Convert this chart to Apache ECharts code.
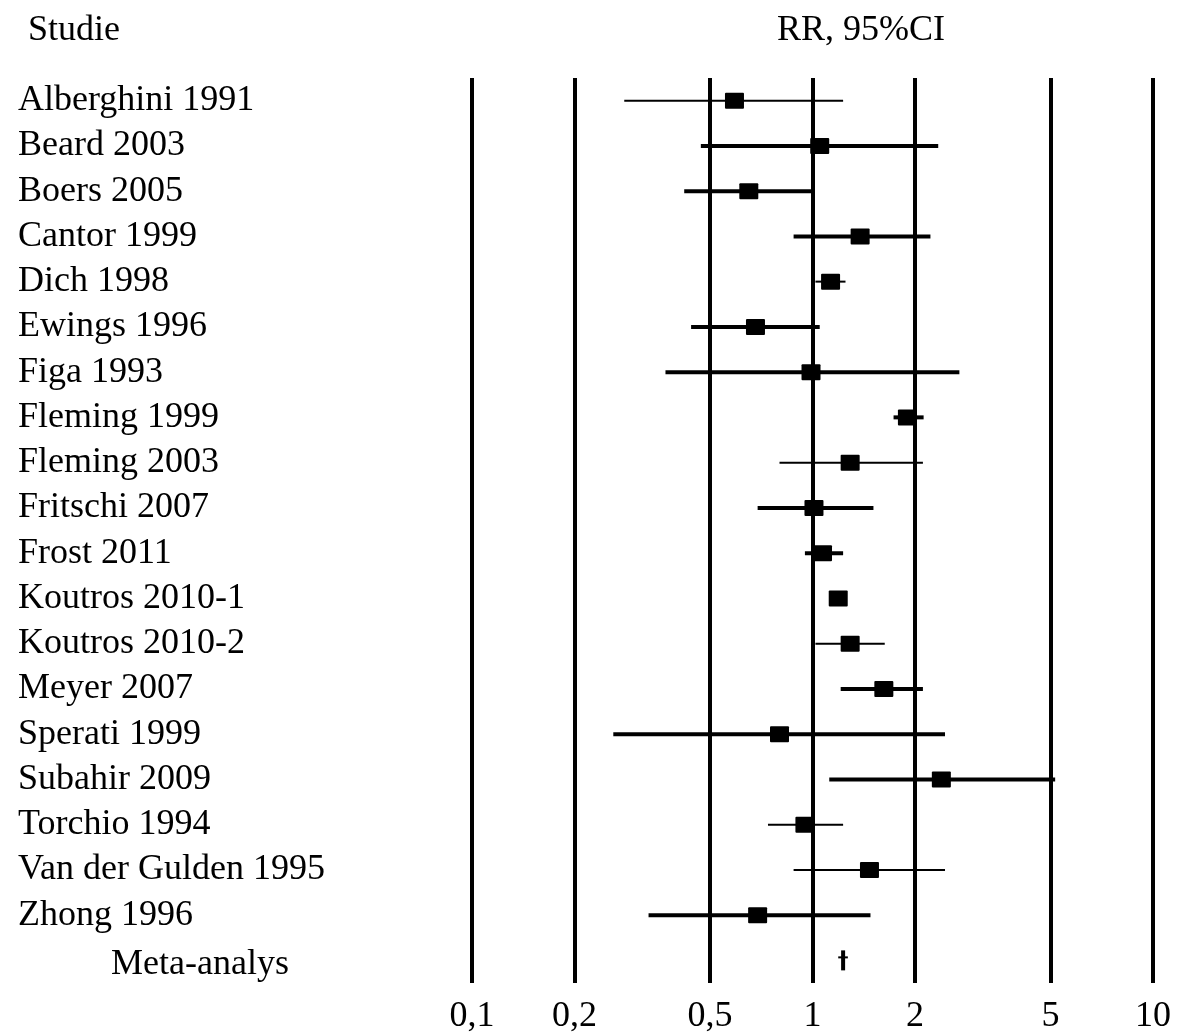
<!DOCTYPE html>
<html>
<head>
<meta charset="utf-8">
<script src="https://cdn.jsdelivr.net/npm/echarts@6/dist/echarts.min.js"></script>
<style>
  html, body { margin: 0; padding: 0; background: #ffffff; }
  #chart { width: 1178px; height: 1032px; }
</style>
</head>
<body>
<div id="chart"></div>
<script>
// ---- data ----
const studies = [
  'Alberghini 1991', 'Beard 2003', 'Boers 2005', 'Cantor 1999', 'Dich 1998',
  'Ewings 1996', 'Figa 1993', 'Fleming 1999', 'Fleming 2003', 'Fritschi 2007',
  'Frost 2011', 'Koutros 2010-1', 'Koutros 2010-2', 'Meyer 2007', 'Sperati 1999',
  'Subahir 2009', 'Torchio 1994', 'Van der Gulden 1995', 'Zhong 1996'
];
const rrEst  = [0.59, 1.05, 0.65, 1.38, 1.13, 0.68, 0.99, 1.90, 1.29, 1.01, 1.07, 1.19, 1.29, 1.62, 0.80, 2.39, 0.95, 1.47, 0.69];
const ciLow  = [0.28, 0.47, 0.42, 0.88, 1.02, 0.44, 0.37, 1.73, 0.80, 0.69, 0.95, 1.13, 1.02, 1.21, 0.26, 1.12, 0.74, 0.88, 0.33];
const ciHigh = [1.23, 2.34, 1.00, 2.22, 1.25, 1.05, 2.70, 2.12, 2.11, 1.51, 1.23, 1.25, 1.63, 2.11, 2.45, 5.16, 1.23, 2.45, 1.48];
const metaLabel = 'Meta-analys';
const metaEst = 1.23;
const metaLow = 1.19;
const metaHigh = 1.27;
const gridTicks = [0.1, 0.2, 0.5, 1, 2, 5, 10];
const tickLabels = ['0,1', '0,2', '0,5', '1', '2', '5', '10'];
const headerStudy = 'Studie';
const headerRR = 'RR, 95%CI';

// ---- styles ----
const thinCIStudies = ['Alberghini 1991', 'Dich 1998', 'Fleming 2003', 'Koutros 2010-2', 'Torchio 1994', 'Van der Gulden 1995'];
const FONT = '"Liberation Serif", "Times New Roman", serif';
const FS = 36;

const categories = studies.concat([metaLabel]);
const seriesData = studies.map((s, i) => [ciLow[i], rrEst[i], ciHigh[i], i]);
seriesData.push([metaLow, metaEst, metaHigh, studies.length]);

const chart = echarts.init(document.getElementById('chart'), null, { renderer: 'canvas' });

chart.setOption({
  animation: false,
  backgroundColor: '#ffffff',
  grid: { left: 472, right: 25, top: 78, bottom: 49, containLabel: false },
  xAxis: {
    type: 'log', logBase: 10, min: 0.1, max: 10,
    axisLine: { show: false }, axisTick: { show: false },
    splitLine: { show: false }, axisLabel: { show: false }
  },
  yAxis: {
    type: 'category', inverse: true, data: categories,
    axisLine: { show: false }, axisTick: { show: false }, splitLine: { show: false },
    axisLabel: {
      interval: 0,
      align: 'left', margin: 454, color: '#000', fontFamily: FONT, fontSize: FS,
      formatter: (v, idx) => idx === studies.length ? '{m|' + v + '}' : v,
      rich: { m: { width: 364, align: 'center', padding: [9, 0, 0, 0], color: '#000', fontFamily: FONT, fontSize: FS } }
    }
  },
  graphic: [
    { type: 'text', x: 28, y: 13, style: { text: headerStudy, font: FS + 'px ' + FONT, fill: '#000' } },
    { type: 'text', x: 861, y: 13, style: { text: headerRR, font: FS + 'px ' + FONT, fill: '#000', align: 'center' } }
  ],
  series: [
    {
      type: 'scatter', data: [], silent: true,
      markLine: {
        silent: true, symbol: 'none', animation: false,
        lineStyle: { color: '#000', width: 4, type: 'solid' },
        label: { show: true, position: 'end', distance: 16, color: '#000', fontFamily: FONT, fontSize: FS },
        data: gridTicks.map((t, i) => ({ xAxis: t, label: { formatter: tickLabels[i] } }))
      }
    },
    {
      type: 'custom', silent: true, z: 5,
      encode: { x: [0, 1, 2], y: 3 },
      data: seriesData,
      renderItem: (params, api) => {
        const row = api.value(3);
        const lo = api.coord([api.value(0), row]);
        const est = api.coord([api.value(1), row]);
        const hi = api.coord([api.value(2), row]);
        if (row === studies.length) {
          return {
            type: 'group', children: [
              { type: 'line', shape: { x1: lo[0], y1: est[1] - 3, x2: hi[0], y2: est[1] - 3 }, style: { stroke: '#000', lineWidth: 2 } },
              { type: 'line', shape: { x1: est[0], y1: est[1] - 10, x2: est[0], y2: est[1] + 10 }, style: { stroke: '#000', lineWidth: 4 } }
            ]
          };
        }
        const thin = thinCIStudies.indexOf(studies[row]) >= 0;
        return {
          type: 'group', children: [
            { type: 'line', shape: { x1: lo[0], y1: est[1], x2: hi[0], y2: est[1] }, style: { stroke: '#000', lineWidth: thin ? 2 : 4 } },
            { type: 'rect', shape: { x: est[0] - 9.5, y: est[1] - 8, width: 19, height: 16, r: 1 }, style: { fill: '#000' } }
          ]
        };
      }
    }
  ]
});
</script>
</body>
</html>
